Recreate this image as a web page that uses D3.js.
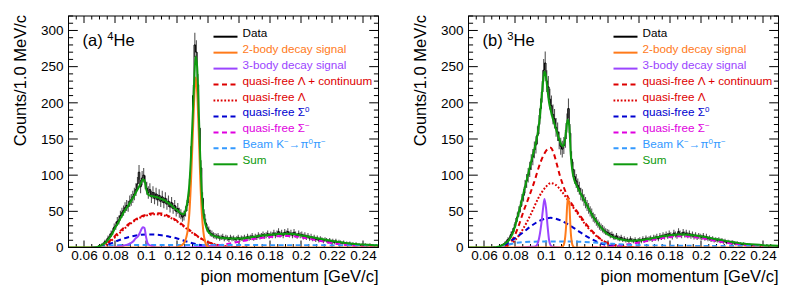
<!DOCTYPE html>
<html><head><meta charset="utf-8">
<script src="https://cdn.jsdelivr.net/npm/d3@7"></script>
<style>
body{margin:0;background:#fff;}
svg text{font-family:"Liberation Sans",Arial,Helvetica,sans-serif;}
</style></head><body>
<svg id="c" width="793" height="292" xmlns="http://www.w3.org/2000/svg"></svg>
<script>
// ---------- axis values ----------
const xTickValues = [0.06,0.08,0.10,0.12,0.14,0.16,0.18,0.20,0.22,0.24];
const yTickValues = [0,50,100,150,200,250,300];
const xDomain = [0.05,0.25];
const yDomain = [0,320];
const binStart = 0.050, binWidth = 0.001;

// ---------- legend ----------
const legendLabels = ["Data","2-body decay signal","3-body decay signal","quasi-free Λ + continuum","quasi-free Λ","quasi-free Σ^{0}","quasi-free Σ^{−}","Beam K^{−}→π^{0}π^{−}","Sum"];

// ---------- (a) 4He ----------
const he4Data = [
0,0,0,0,0,0,0,0,0,0,
0,0,0,0,0,0,0,1,0,2,
2,4,5,8,9,13,15,19,22,28,
30,36,38,44,48,51,55,58,57,64,
66,70,74,80,88,104,84,96,100,90,
82,76,80,70,76,68,74,66,72,64,
70,62,68,60,64,56,62,54,58,50,
54,48,46,42,44,50,58,70,95,140,
210,280,270,225,165,110,68,46,34,27,
24,20,19,17,16,15,16,13,14,15,
12,14,13,11,14,12,13,11,12,14,
11,13,12,14,12,15,13,14,16,13,
15,14,17,15,16,18,16,17,19,16,
18,17,20,17,19,22,18,20,17,21,
19,22,18,20,17,21,18,16,19,17,
18,15,17,14,16,13,15,12,14,11,
13,10,12,11,9,11,10,8,10,8,
9,7,9,6,8,7,6,7,5,6,
5,6,4,5,4,5,3,4,3,4,
3,4,2,3,4,2,3,2,3,2];
const he4TwoBody = [[0.05,0],[0.120,0],[0.121,1],[0.122,2],[0.123,3],[0.124,5],[0.125,8],[0.126,14],[0.127,25],[0.128,48],[0.129,90],[0.130,145],[0.131,200],[0.132,235],[0.133,215],[0.134,160],[0.135,95],[0.136,48],[0.137,22],[0.138,9],[0.139,3],[0.140,1],[0.141,0],[0.25,0]];
const he4ThreeBody = [[0.075,0],[0.080,0.5],[0.084,2],[0.088,4],[0.090,6],[0.092,9],[0.093,12],[0.095,16],[0.096,20],[0.097,25],[0.098,28],[0.099,27],[0.100,15],[0.101,6],[0.102,3.5],[0.104,2],[0.106,0.5],[0.108,0],[0.132,0],[0.136,1],[0.140,2],[0.145,1.5],[0.150,0.5],[0.156,0]];
const he4LamCont = [[0.065,0],[0.070,0.5],[0.075,6],[0.080,16],[0.085,26],[0.090,34],[0.095,41],[0.100,45],[0.105,47.5],[0.110,47],[0.115,43],[0.120,37],[0.125,29],[0.130,21],[0.135,13],[0.140,7.5],[0.145,4],[0.150,2],[0.155,1],[0.160,0.3],[0.165,0]];
const he4Lam = [[0.065,0],[0.070,0.5],[0.075,5],[0.080,14],[0.085,24],[0.090,33],[0.095,40],[0.100,44],[0.105,46],[0.110,45],[0.115,42],[0.120,36],[0.125,28],[0.130,20],[0.135,13],[0.140,7.5],[0.145,4],[0.150,2],[0.160,0.3],[0.165,0]];
const he4Sig0 = [[0.065,0],[0.070,0.5],[0.075,3.5],[0.080,8],[0.085,12],[0.090,15],[0.095,17],[0.100,18],[0.105,18],[0.110,17],[0.115,15],[0.120,12.5],[0.125,9],[0.130,6],[0.135,3.5],[0.140,1.8],[0.145,0.8],[0.150,0.3],[0.160,0]];
const he4SigM = [[0.130,0],[0.140,1],[0.145,2.5],[0.150,4],[0.155,6],[0.160,8],[0.165,10],[0.170,12],[0.175,13.5],[0.180,14.5],[0.185,15.5],[0.190,16],[0.195,15.5],[0.200,14],[0.205,12],[0.210,10],[0.215,8],[0.220,6],[0.225,4.5],[0.230,3],[0.235,2],[0.240,1.2],[0.245,0.7],[0.250,0.4]];
const he4Beam = [[0.065,0],[0.070,0.5],[0.075,2],[0.080,3.2],[0.090,3.5],[0.120,3.5],[0.150,3.4],[0.200,3.1],[0.250,2.6]];
const he4Sum = [[0.05,0],[0.065,0],[0.068,0.5],[0.070,2],[0.072,4],[0.074,7],[0.076,12],[0.078,18],[0.080,27],[0.082,34],[0.084,42],[0.086,50],[0.088,56],[0.090,63],[0.092,70],[0.094,78],[0.096,86],[0.097,90],[0.098,94],[0.099,93],[0.100,82],[0.101,75],[0.102,72],[0.104,71],[0.106,70],[0.108,69],[0.110,67],[0.112,65],[0.114,62],[0.116,59],[0.118,55],[0.120,52],[0.122,48],[0.124,46],[0.125,48],[0.126,55],[0.127,68],[0.128,88],[0.129,125],[0.130,175],[0.131,225],[0.132,264],[0.133,250],[0.134,190],[0.135,125],[0.136,75],[0.137,48],[0.138,35],[0.139,27],[0.140,22],[0.142,18],[0.145,15],[0.150,13],[0.155,12.5],[0.160,12.5],[0.165,13.5],[0.170,15],[0.175,16.5],[0.180,17.5],[0.185,18.5],[0.190,19],[0.195,18.5],[0.200,17],[0.205,15],[0.210,13],[0.215,11],[0.220,9],[0.225,7.5],[0.230,6],[0.235,5],[0.240,4],[0.245,3.5],[0.250,3]];

// ---------- (b) 3He ----------
const he3Data = [
0,0,0,0,0,0,0,0,0,0,
0,0,0,0,0,0,1,0,1,1,
2,3,4,6,8,11,13,18,22,27,
35,42,50,56,66,72,84,92,100,108,
118,125,135,142,155,170,192,215,245,255,
230,222,205,196,184,178,166,160,148,140,
136,141,150,172,192,158,122,108,98,92,
86,82,74,72,66,62,58,54,50,47,
42,40,36,33,30,28,26,24,22,21,
20,17,18,15,14,16,13,12,14,11,
12,10,11,9,12,10,9,11,8,10,
11,9,12,10,13,11,12,13,11,14,
13,15,12,16,14,17,15,18,16,19,
17,15,20,18,16,22,19,17,21,18,
20,17,19,16,18,15,17,14,16,15,
14,16,13,15,12,13,11,12,10,11,
10,11,9,10,8,9,7,8,7,6,
7,6,5,6,4,5,4,5,3,4,
3,4,2,3,2,3,2,1,2,2,
1,2,3,1,2,1,0,1,2,1];
const he3TwoBody = [[0.05,0],[0.109,0],[0.110,0.5],[0.111,2],[0.112,8],[0.113,30],[0.114,68],[0.115,60],[0.116,20],[0.117,4],[0.118,0.5],[0.119,0],[0.25,0]];
const he3ThreeBody = [[0.080,0],[0.086,0.5],[0.090,1],[0.093,1.5],[0.094,3],[0.095,8],[0.096,18],[0.097,33],[0.098,52],[0.099,67],[0.100,55],[0.101,30],[0.102,10],[0.103,3],[0.104,1],[0.106,0.3],[0.110,0]];
const he3LamCont = [[0.068,0],[0.071,0.5],[0.074,2],[0.077,7],[0.079,13],[0.082,28],[0.0855,50],[0.089,70],[0.092,88],[0.0965,118],[0.099,130],[0.101,136],[0.103,138],[0.105,130],[0.107,115],[0.109,99],[0.111,86],[0.113,75],[0.115,66],[0.118,56],[0.122,44],[0.126,32],[0.131,20],[0.135,12],[0.140,6],[0.145,3],[0.150,1.2],[0.155,0.4],[0.160,0]];
const he3Lam = [[0.068,0],[0.071,0.5],[0.075,2],[0.080,10],[0.085,25],[0.090,45],[0.095,68],[0.100,84],[0.103,89],[0.106,87],[0.110,78],[0.114,66],[0.118,54],[0.122,42],[0.126,30],[0.131,19],[0.135,11.5],[0.140,5.5],[0.145,2.8],[0.150,1],[0.155,0.4],[0.160,0]];
const he3Sig0 = [[0.068,0],[0.072,2],[0.076,7],[0.080,13],[0.0847,20],[0.090,29],[0.095,36],[0.100,40],[0.103,41],[0.106,40],[0.110,37],[0.115,31],[0.120,24],[0.125,17],[0.130,11],[0.135,6],[0.140,3],[0.145,1.5],[0.150,0.6],[0.155,0.2],[0.160,0]];
const he3SigM = [[0.130,0],[0.140,1],[0.145,2],[0.150,3.5],[0.155,5],[0.160,7],[0.165,9],[0.170,11],[0.175,13],[0.180,14.5],[0.185,15.5],[0.190,15.5],[0.195,14.5],[0.200,13],[0.205,11],[0.210,9],[0.215,7],[0.220,5.5],[0.225,4],[0.230,3],[0.235,2],[0.240,1.3],[0.245,0.8],[0.250,0.5]];
const he3Beam = [[0.065,0],[0.070,1],[0.075,3.5],[0.080,6],[0.085,7.5],[0.090,8],[0.100,8.3],[0.110,8.3],[0.120,8],[0.130,7],[0.140,5.5],[0.150,4],[0.160,3.2],[0.170,2.8],[0.180,2.5],[0.200,2.2],[0.220,2],[0.250,1.8]];
const he3Sum = [[0.05,0],[0.066,0],[0.068,0.5],[0.070,1.5],[0.072,3.5],[0.074,6],[0.076,10],[0.078,17],[0.080,29],[0.082,45],[0.084,62],[0.086,80],[0.088,97],[0.090,115],[0.092,132],[0.094,150],[0.095,163],[0.096,180],[0.097,203],[0.098,227],[0.099,243],[0.100,236],[0.101,217],[0.102,200],[0.103,190],[0.104,181],[0.106,167],[0.108,153],[0.110,142],[0.111,140],[0.112,146],[0.113,162],[0.114,177],[0.115,168],[0.116,128],[0.117,106],[0.118,95],[0.120,85],[0.122,76],[0.125,64],[0.128,52],[0.130,44],[0.135,29],[0.140,18],[0.145,13],[0.150,10.5],[0.155,9.5],[0.160,10],[0.165,11.5],[0.170,13.5],[0.175,15.5],[0.180,17],[0.185,18],[0.190,18],[0.195,17],[0.200,15.5],[0.205,13.5],[0.210,11.5],[0.215,9.5],[0.220,7.5],[0.225,6],[0.230,5],[0.235,4],[0.240,3.2],[0.245,2.7],[0.250,2.3]];

// ---------- styles ----------
const C = {data:"#000000", two:"#ff7a1a", three:"#9b45ff", red:"#dd0000", blue:"#0000d0", mag:"#e000e0", cyan:"#3399ff", sum:"#0e9a0e"};
const DASH = "5,3.5", DOT = "1.8,1.8";

const svg = d3.select("#c");
const FL = 68.5, FW = 310, FT = 16, FB = 247.5;

function richText(sel, str, fs) {
  const parts = str.split(/(\^\{[^}]*\})/).filter(s => s.length);
  let prevSup = false;
  const sh = fs*0.38;
  parts.forEach(p => {
    const m = p.match(/^\^\{([^}]*)\}$/);
    if (m) {
      sel.append("tspan").attr("dy", prevSup ? 0 : -sh).attr("font-size", fs*0.68).text(m[1]);
      prevSup = true;
    } else {
      sel.append("tspan").attr("dy", prevSup ? sh : 0).text(p);
      prevSup = false;
    }
  });
}

function drawPanel(off, cfg, idx) {
  const g = svg.append("g").attr("transform", `translate(${FL+off},0)`);
  const x = d3.scaleLinear().domain(xDomain).range([0, FW]);
  const y = d3.scaleLinear().domain(yDomain).range([FB, FT]);
  const cid = "clip"+idx;
  g.append("clipPath").attr("id", cid).append("rect").attr("x",0).attr("y",FT).attr("width",FW).attr("height",FB-FT);

  // ticks (ROOT style: inward, all four sides)
  const xMinor = d3.range(0, 41).map(i => 0.05 + i*0.005);
  const yMinor = d3.range(0, 33).map(i => i*10);
  const ax = g.append("g").attr("class","axes");
  function tickLines(vals, len, horiz) {
    vals.forEach(v => {
      if (horiz) {
        const px = x(v);
        ax.append("line").attr("x1",px).attr("x2",px).attr("y1",FB).attr("y2",FB-len).attr("stroke","#000").attr("stroke-width",1);
        ax.append("line").attr("x1",px).attr("x2",px).attr("y1",FT).attr("y2",FT+len).attr("stroke","#000").attr("stroke-width",1);
      } else {
        const py = y(v);
        ax.append("line").attr("x1",0).attr("x2",len).attr("y1",py).attr("y2",py).attr("stroke","#000").attr("stroke-width",1);
        ax.append("line").attr("x1",FW).attr("x2",FW-len).attr("y1",py).attr("y2",py).attr("stroke","#000").attr("stroke-width",1);
      }
    });
  }
  tickLines(xMinor.filter(v => !xTickValues.some(t => Math.abs(t-v)<1e-9)), 3.5, true);
  tickLines(xTickValues, 7, true);
  tickLines(yMinor.filter(v => v % 50 !== 0), 4.6, false);
  tickLines(yTickValues, 9.3, false);

  // tick labels via d3 axes
  const xa = g.append("g").attr("transform",`translate(0,${FB})`)
    .call(d3.axisBottom(x).tickValues(xTickValues).tickSize(0).tickPadding(3).tickFormat(d3.format("~g")));
  xa.select(".domain").remove();
  xa.selectAll("text").attr("font-size",13.5).attr("fill","#000").attr("font-family","Liberation Sans, Arial, sans-serif");
  const ya = g.append("g")
    .call(d3.axisLeft(y).tickValues(yTickValues).tickSize(0).tickPadding(5));
  ya.select(".domain").remove();
  ya.selectAll("text").attr("font-size",13.5).attr("fill","#000").attr("font-family","Liberation Sans, Arial, sans-serif");

  const plot = g.append("g").attr("clip-path",`url(#${cid})`);

  // data: error bars + histogram line
  const bins = cfg.data.map((v,i) => ({x0: binStart + i*binWidth, v}));
  plot.append("g").selectAll("line").data(bins.filter(b => b.v > 0)).join("line")
    .attr("x1", b => x(b.x0 + binWidth/2)).attr("x2", b => x(b.x0 + binWidth/2))
    .attr("y1", b => y(b.v - Math.sqrt(b.v))).attr("y2", b => y(b.v + Math.sqrt(b.v)))
    .attr("stroke","#555").attr("stroke-width",1.1);
  const stepPts = [];
  bins.forEach(b => { stepPts.push([b.x0, b.v]); stepPts.push([b.x0+binWidth, b.v]); });
  plot.append("path").attr("d", d3.line().x(d=>x(d[0])).y(d=>y(d[1]))(stepPts))
    .attr("fill","none").attr("stroke","#000").attr("stroke-width",1);

  const line = d3.line().x(d=>x(d[0])).y(d=>y(d[1])).curve(d3.curveMonotoneX);
  const curves = [
    [cfg.lamCont, C.red, DASH],
    [cfg.lam, C.red, DOT],
    [cfg.sig0, C.blue, DASH],
    [cfg.sigM, C.mag, DASH],
    [cfg.beam, C.cyan, DASH],
    [cfg.three, C.three, null],
    [cfg.two, C.two, null],
    [cfg.sum, C.sum, null]
  ];
  curves.forEach(([pts, col, dash]) => {
    const p = plot.append("path").attr("d", line(pts)).attr("fill","none")
      .attr("stroke", col).attr("stroke-width", 2).attr("stroke-linejoin","round");
    if (dash) p.attr("stroke-dasharray", dash);
  });

  // frame
  g.append("rect").attr("x",0).attr("y",FT).attr("width",FW).attr("height",FB-FT)
    .attr("fill","none").attr("stroke","#000").attr("stroke-width",1);

  // legend
  const legStyles = [[C.data,null],[C.two,null],[C.three,null],[C.red,DASH],[C.red,DOT],[C.blue,DASH],[C.mag,DASH],[C.cyan,DASH],[C.sum,null]];
  const textCols = ["#000",C.two,C.three,C.red,C.red,C.blue,C.mag,C.cyan,C.sum];
  legendLabels.forEach((lab, i) => {
    const ly = 36.7 + i*15.95;
    const l = g.append("line").attr("x1",145).attr("x2",169).attr("y1",ly).attr("y2",ly)
      .attr("stroke",legStyles[i][0]).attr("stroke-width",2);
    if (legStyles[i][1]) l.attr("stroke-dasharray", legStyles[i][1]);
    const t = g.append("text").attr("x",174).attr("y",ly).attr("dy","0.36em")
      .attr("font-size",11.7).attr("fill",textCols[i]);
    richText(t, lab, 11.7);
  });

  // panel label
  const pl = g.append("text").attr("x",14).attr("y",46).attr("font-size",16.5).attr("fill","#000");
  richText(pl, cfg.label, 16.5);

  // axis titles
  g.append("text").attr("x",FW).attr("y",282).attr("text-anchor","end").attr("font-size",16.5).text("pion momentum [GeV/c]");
  g.append("text").attr("transform",`translate(${26-FL},15) rotate(-90)`).attr("text-anchor","end").attr("font-size",16.5).text("Counts/1.0 MeV/c");
}

drawPanel(0, {label:"(a) ^{4}He", data:he4Data, two:he4TwoBody, three:he4ThreeBody, lamCont:he4LamCont, lam:he4Lam, sig0:he4Sig0, sigM:he4SigM, beam:he4Beam, sum:he4Sum}, 0);
drawPanel(400, {label:"(b) ^{3}He", data:he3Data, two:he3TwoBody, three:he3ThreeBody, lamCont:he3LamCont, lam:he3Lam, sig0:he3Sig0, sigM:he3SigM, beam:he3Beam, sum:he3Sum}, 1);
</script>
</body></html>
